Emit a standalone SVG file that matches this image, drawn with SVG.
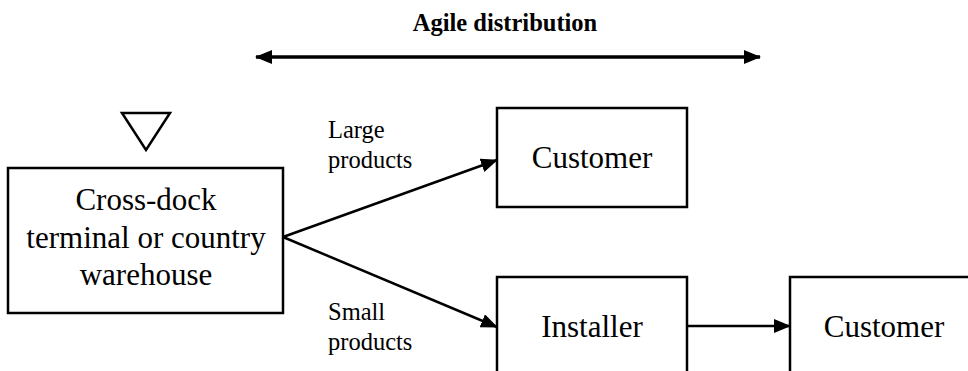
<svg xmlns="http://www.w3.org/2000/svg" width="968" height="371" viewBox="0 0 968 371">
  <style>
    text { font-family: Liberation Serif, DejaVu Serif, serif; fill: #000000; }
    .box { fill: #ffffff; stroke: #000000; stroke-width: 2.5; }
    .main { font-size: 31px; text-anchor: middle; }
    .label { font-size: 24.5px; }
    .title { font-size: 24.5px; font-weight: bold; text-anchor: middle; }
    .conn { fill: none; stroke: #000000; stroke-width: 2.5; }
  </style>
  <defs>
    <marker id="arrow" markerUnits="userSpaceOnUse" markerWidth="17" markerHeight="14" viewBox="0 0 17 14" refX="16" refY="7" orient="auto-start-reverse">
      <path d="M0,0 L17,7 L0,14 z" fill="#000000"/>
    </marker>
  </defs>

  <rect width="968" height="371" fill="#ffffff"/>

  <!-- scope of agile distribution -->
  <g id="agile">
    <text class="title" x="505" y="31">Agile distribution</text>
    <line x1="256" y1="57" x2="760" y2="57" stroke="#000000" stroke-width="3.5" marker-start="url(#arrow)" marker-end="url(#arrow)"/>
  </g>

  <!-- inventory symbol -->
  <g id="inventory">
    <polygon points="122,113 170,113 146,150" fill="none" stroke="#000000" stroke-width="2.5"/>
  </g>

  <g id="crossdock">
    <rect class="box" x="8" y="168" width="275" height="145"/>
    <text class="main" x="146" y="210">Cross-dock</text>
    <text class="main" x="146" y="248">terminal or country</text>
    <text class="main" x="146" y="285">warehouse</text>
  </g>

  <g id="customer1">
    <rect class="box" x="497" y="108" width="190" height="99"/>
    <text class="main" x="592" y="168">Customer</text>
  </g>

  <g id="installer">
    <rect class="box" x="497" y="277" width="190" height="110"/>
    <text class="main" x="592" y="337">Installer</text>
  </g>

  <g id="customer2">
    <rect class="box" x="790" y="277" width="190" height="110"/>
    <text class="main" x="884" y="337">Customer</text>
  </g>

  <!-- flows -->
  <g id="connectors">
    <line class="conn" x1="283" y1="237" x2="497" y2="160" marker-end="url(#arrow)"/>
    <line class="conn" x1="283" y1="237" x2="497" y2="327" marker-end="url(#arrow)"/>
    <line class="conn" x1="687" y1="326" x2="790" y2="326" marker-end="url(#arrow)"/>
    <text class="label" x="328" y="138">Large</text>
    <text class="label" x="328" y="168">products</text>
    <text class="label" x="328" y="320">Small</text>
    <text class="label" x="328" y="350">products</text>
  </g>
</svg>
